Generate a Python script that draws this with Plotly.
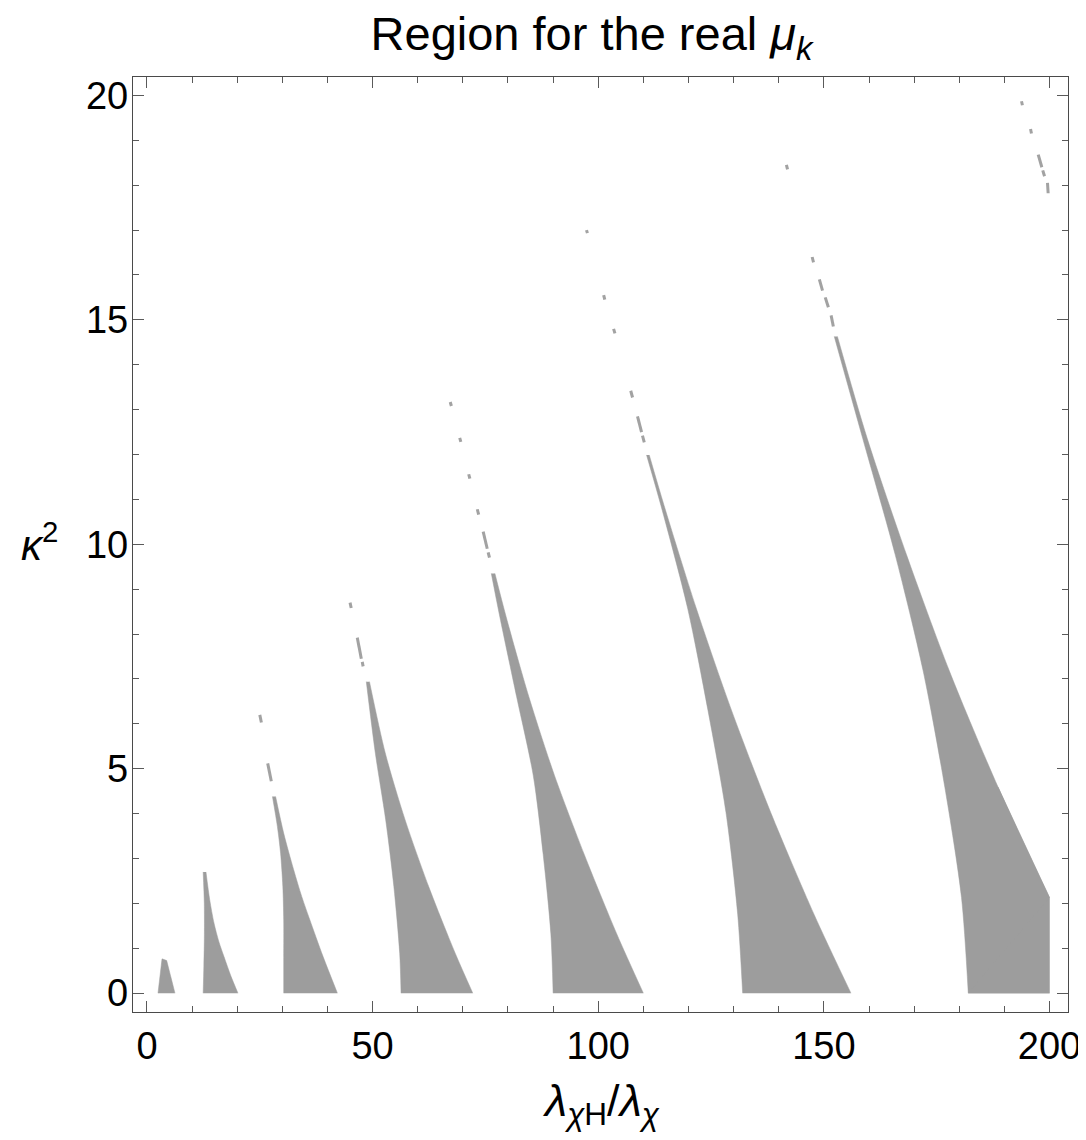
import plotly.graph_objects as go

# ---------------- data ----------------
# Each wedge: left edge and right edge, both listed from bottom to tip
r1_x = [2.44, 2.9, 3.33, 4.36, 5.3, 6.2]          # small first wedge (closed outline)
r1_y = [0.0, 0.40, 0.764, 0.727, 0.36, 0.0]

r2_left_x = [12.45, 12.6, 12.72, 12.7, 12.45]
r2_left_y = [0.0, 0.6, 1.3, 2.0, 2.70]
r2_right_x = [20.16, 18.6, 17.06, 15.95, 14.85, 13.9, 13.07]
r2_right_y = [0.0, 0.38, 0.815, 1.14, 1.56, 2.08, 2.70]

r3_left_x = [30.3, 30.3, 30.3, 30.1, 29.6, 28.9, 27.8]
r3_left_y = [0.0, 0.8, 1.63, 2.38, 3.12, 3.71, 4.38]
r3_right_x = [42.2, 39.0, 36.1, 34.3, 32.5, 30.3, 28.5]
r3_right_y = [0.0, 0.82, 1.63, 2.15, 2.75, 3.56, 4.38]

r4_left_x = [56.3, 56.0, 54.7, 52.9, 50.6, 48.6]
r4_left_y = [0.0, 0.89, 2.38, 3.86, 5.35, 6.94]
r4_right_x = [72.2, 68.3, 62.4, 57.2, 52.8, 49.3]
r4_right_y = [0.0, 0.89, 2.38, 3.86, 5.35, 6.94]

r5_left_x = [90.0, 89.5, 87.8, 85.6, 81.9, 78.2, 76.3]
r5_left_y = [0.0, 1.32, 3.09, 4.85, 6.61, 8.38, 9.35]
r5_right_x = [110.0, 104.1, 96.9, 90.3, 84.6, 79.6, 77.1]
r5_right_y = [0.0, 1.32, 3.09, 4.85, 6.61, 8.38, 9.35]

r6_left_x = [132.0, 130.9, 128.3, 124.3, 119.8, 113.9, 110.7]
r6_left_y = [0.0, 1.76, 4.03, 6.31, 8.58, 10.86, 11.99]
r6_right_x = [156.0, 147.8, 138.2, 129.5, 121.7, 114.6, 111.3]
r6_right_y = [0.0, 1.76, 4.03, 6.31, 8.58, 10.86, 11.99]

r7_left_x = [182.0, 180.5, 176.8, 172.0, 165.8, 158.6, 152.3]
r7_left_y = [0.0, 2.13, 4.59, 7.18, 9.77, 12.36, 14.63]
r7_right_x = [200.0, 188.6, 177.8, 168.3, 159.6, 153.0]
r7_right_y = [2.13, 4.59, 7.18, 9.77, 12.36, 14.63]
r7_base_x = [182.0, 200.0, 200.0, 188.6]          # part cut by the x = 200 edge
r7_base_y = [0.0, 0.0, 2.13, 4.59]

# thin broken slivers above the solid tips (segments separated by None)
d3_x = [25.0, 25.35, None, 26.75, 27.55]
d3_y = [6.20, 6.03, None, 5.12, 4.72]
d4_x = [45.0, 45.25, None, 46.6, 47.5, None, 47.7, 47.9]
d4_y = [8.70, 8.58, None, 7.92, 7.45, None, 7.38, 7.28]
d5_x = [67.2, 67.45, None, 69.3, 69.55, None, 71.3, 71.55, None, 73.2, 73.5, None, 74.5, 75.4, None, 75.6, 75.9]
d5_y = [13.17, 13.08, None, 12.37, 12.28, None, 11.56, 11.46, None, 10.78, 10.66, None, 10.28, 9.90, None, 9.82, 9.70]
d6_x = [97.4, 97.6, None, 101.2, 101.45, None, 103.4, 103.7, None, 107.2, 107.6, None, 108.7, 109.6, None, 109.8, 110.2]
d6_y = [17.0, 16.93, None, 15.55, 15.45, None, 14.8, 14.7, None, 13.42, 13.27, None, 12.85, 12.5, None, 12.42, 12.27]
d7_x = [141.7, 141.95, None, 147.4, 147.7, None, 149.0, 149.7, None, 150.3, 151.0, None, 151.6, 152.1]
d7_y = [18.45, 18.35, None, 16.4, 16.28, None, 15.9, 15.65, None, 15.5, 15.28, None, 15.1, 14.85]
d8_x = [193.8, 194.0, None, 195.8, 196.0, None, 197.5, 198.3, None, 198.5, 198.9, None, 199.55, 199.7]
d8_y = [19.87, 19.78, None, 19.25, 19.15, None, 18.68, 18.4, None, 18.33, 18.2, None, 18.05, 17.82]

x_ticks = [0, 50, 100, 150, 200]
y_ticks = [0, 5, 10, 15, 20]

# ---------------- figure ----------------
FILL = "#9d9d9d"
fig = go.Figure()

fig.add_trace(go.Scatter(x=r1_x, y=r1_y, mode="lines", fill="toself", fillcolor=FILL,
                         line=dict(color=FILL, width=0.5), hoverinfo="skip", showlegend=False))
fig.add_trace(go.Scatter(x=r7_base_x, y=r7_base_y, mode="lines", fill="toself", fillcolor=FILL,
                         line=dict(color=FILL, width=0.5), hoverinfo="skip", showlegend=False))

edges = [(r2_left_x, r2_left_y, r2_right_x, r2_right_y),
         (r3_left_x, r3_left_y, r3_right_x, r3_right_y),
         (r4_left_x, r4_left_y, r4_right_x, r4_right_y),
         (r5_left_x, r5_left_y, r5_right_x, r5_right_y),
         (r6_left_x, r6_left_y, r6_right_x, r6_right_y),
         (r7_left_x, r7_left_y, r7_right_x, r7_right_y)]
for lx, ly, rx, ry in edges:
    fig.add_trace(go.Scatter(x=lx, y=ly, mode="lines",
                             line=dict(color=FILL, width=0.5, shape="spline", smoothing=0.8),
                             hoverinfo="skip", showlegend=False))
    fig.add_trace(go.Scatter(x=rx, y=ry, mode="lines", fill="tonexty", fillcolor=FILL,
                             line=dict(color=FILL, width=0.5, shape="spline", smoothing=0.8),
                             hoverinfo="skip", showlegend=False))

for dx, dy in [(d3_x, d3_y), (d4_x, d4_y), (d5_x, d5_y), (d6_x, d6_y),
               (d7_x, d7_y), (d8_x, d8_y)]:
    fig.add_trace(go.Scatter(x=dx, y=dy, mode="lines", connectgaps=False,
                             line=dict(color="#a2a2a2", width=3),
                             hoverinfo="skip", showlegend=False))

FONT = "Liberation Sans, Arial, Helvetica, sans-serif"
axis_common = dict(showline=True, linecolor="#4a4a4a", linewidth=1.3, mirror="ticks",
                   ticks="inside", ticklen=11, tickwidth=1.2, tickcolor="#5a5a5a",
                   showgrid=False, zeroline=False, automargin=False,
                   ticklabeloverflow="allow",
                   tickfont=dict(family=FONT, size=38, color="black"))
fig.update_xaxes(range=[-3.1, 204.1], tickvals=x_ticks, ticklabelstandoff=0,
                 minor=dict(dtick=10, ticks="inside", ticklen=6, tickwidth=1.1,
                            tickcolor="#5a5a5a", showgrid=False),
                 **axis_common)
fig.update_yaxes(range=[-0.42, 20.41], tickvals=y_ticks, ticklabelstandoff=-4,
                 minor=dict(dtick=1, ticks="inside", ticklen=6, tickwidth=1.1,
                            tickcolor="#5a5a5a", showgrid=False),
                 **axis_common)

# page body has an 8px default margin -> figure placed at (8,8)
fig.update_layout(
    width=1078, height=1124,
    margin=dict(l=125, r=18, t=69, b=120),
    paper_bgcolor="white", plot_bgcolor="white",
    font=dict(family=FONT, color="black"),
    title=dict(text="Region for the real <i>μ</i><sub><i>k</i></sub>",
               x=0.4904, xref="paper", xanchor="center",
               y=0.992, yref="container", yanchor="top",
               font=dict(family=FONT, size=47, color="black")),
    annotations=[
        dict(text="<i>κ</i><sup>2</sup>", xref="paper", yref="paper",
             x=-0.1, y=0.503, xanchor="center", yanchor="middle",
             showarrow=False, font=dict(family=FONT, size=42, color="black")),
        dict(text="<i>λ</i><sub><i>χ</i>H</sub>/<i>λ</i><sub><i>χ</i></sub>",
             xref="paper", yref="paper", x=0.5, y=-0.098,
             xanchor="center", yanchor="middle", showarrow=False,
             font=dict(family=FONT, size=45, color="black")),
    ],
)

fig.write_html("out.html")
